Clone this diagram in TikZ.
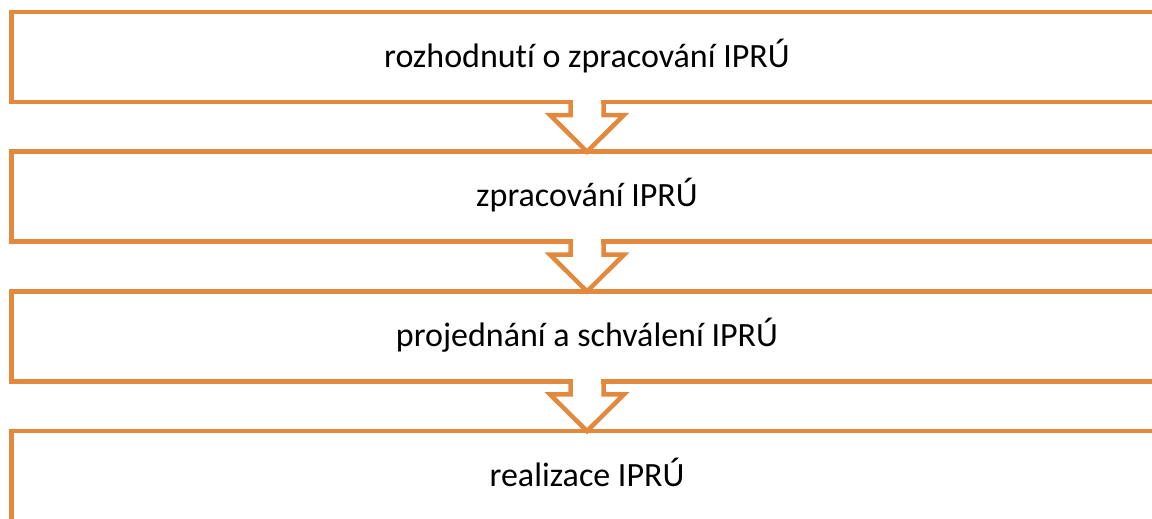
\documentclass[tikz,border=0pt]{standalone}
\usepackage{fontspec}
\setmainfont{Carlito}[Ligatures=NoCommon]
\usetikzlibrary{positioning}
\definecolor{boxorange}{RGB}{226,137,62}
\begin{document}
\begin{tikzpicture}[line join = miter, >=stealth, font=\fontsize{34}{40}\selectfont,
	krok/.style={draw=boxorange, line width=4.5pt, outer sep=0pt, minimum width=1151pt, minimum height=90pt, text height=25pt, text depth=5pt},
	sipka/.style={draw=boxorange, line width=4.5pt}]
	
	\def \w{1152pt};
	\def \h{519pt};
	\useasboundingbox (0,0) rectangle (\w,-\h);
	\clip (0,0) rectangle (\w,-\h);
	\node[krok] (b1) at (587pt,-57pt) {rozhodnutí o zpracování IPRÚ};
	\node[krok, below=49.7pt of b1] (b2) {zpracování IPRÚ};
	\node[krok, below=49.7pt of b2] (b3) {projednání a schválení IPRÚ};
	\node[krok, below=49.7pt of b3] (b4) {realizace IPRÚ};
	\foreach \a/\b in {b1/b2,b2/b3,b3/b4}
	{
		\fill[white] ([xshift=-14.25pt,yshift=3pt]\a.south) rectangle ([xshift=14.25pt,yshift=-3pt]\a.south);
		\draw[sipka] ([xshift=-16.5pt]\a.south) -- ([xshift=-16.5pt,yshift=-13pt]\a.south) -- ([xshift=-37pt,yshift=-13pt]\a.south) -- (\b.north) -- ([xshift=37pt,yshift=-13pt]\a.south) -- ([xshift=16.5pt,yshift=-13pt]\a.south) -- ([xshift=16.5pt]\a.south);
	}
\end{tikzpicture}
\end{document}
